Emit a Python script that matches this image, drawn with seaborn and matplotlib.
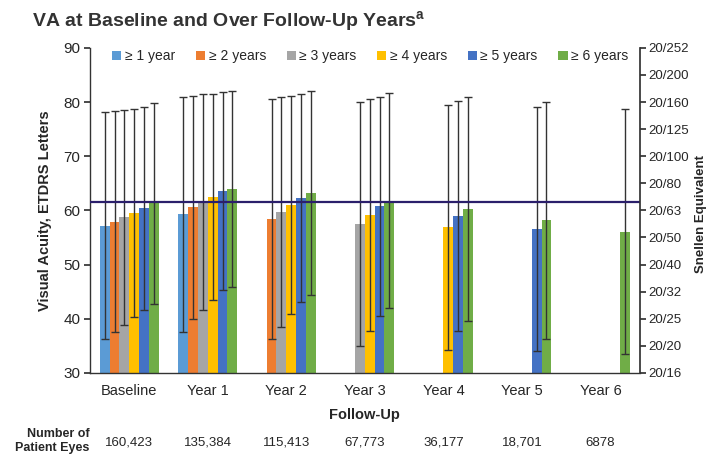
import numpy as np
import pandas as pd
import matplotlib
matplotlib.use("Agg")
import matplotlib.pyplot as plt
import seaborn as sns

categories = ["Baseline", "Year 1", "Year 2", "Year 3", "Year 4", "Year 5", "Year 6"]
groups = ["≥ 1 year", "≥ 2 years", "≥ 3 years", "≥ 4 years", "≥ 5 years", "≥ 6 years"]
colors = ["#5B9BD5", "#ED7D31", "#A5A5A5", "#FFC000", "#4472C4", "#70AD47"]

nan = np.nan
mean_1y = [57.2, 59.3, nan, nan, nan, nan, nan]
mean_2y = [57.9, 60.6, 58.4, nan, nan, nan, nan]
mean_3y = [58.7, 61.5, 59.7, 57.5, nan, nan, nan]
mean_4y = [59.5, 62.5, 61.0, 59.2, 56.9, nan, nan]
mean_5y = [60.4, 63.6, 62.3, 60.8, 59.0, 56.6, nan]
mean_6y = [61.3, 64.0, 63.2, 61.8, 60.2, 58.2, 56.1]

sd_1y = [20.9, 21.7, nan, nan, nan, nan, nan]
sd_2y = [20.4, 20.6, 22.2, nan, nan, nan, nan]
sd_3y = [19.8, 19.9, 21.2, 22.5, nan, nan, nan]
sd_4y = [19.2, 19.0, 20.2, 21.4, 22.6, nan, nan]
sd_5y = [18.7, 18.3, 19.2, 20.2, 21.2, 22.5, nan]
sd_6y = [18.6, 18.1, 18.8, 19.8, 20.7, 21.9, 22.6]

reference_line = 61.6
left_ticks = [30, 40, 50, 60, 70, 80, 90]
snellen_labels = ["20/16", "20/20", "20/25", "20/32", "20/40", "20/50", "20/63",
                  "20/80", "20/100", "20/125", "20/160", "20/200", "20/252"]
eye_counts = ["160,423", "135,384", "115,413", "67,773", "36,177", "18,701", "6878"]

means = [mean_1y, mean_2y, mean_3y, mean_4y, mean_5y, mean_6y]
sds = [sd_1y, sd_2y, sd_3y, sd_4y, sd_5y, sd_6y]

rows = []
for g, m, s in zip(groups, means, sds):
    for c, mv, sv in zip(categories, m, s):
        if not np.isnan(mv):
            rows.append({"cat": c, "grp": g, "mean": mv, "sd": sv})
df = pd.DataFrame(rows)

sns.set_theme(style="white")
plt.rcParams["font.family"] = ["Liberation Sans", "DejaVu Sans"]
plt.rcParams["mathtext.default"] = "regular"

fig = plt.figure(figsize=(7.14, 4.65), dpi=100)
ax = fig.add_axes([0.126, 0.198, 0.770, 0.699])

sns.barplot(data=df, x="cat", y="mean", hue="grp", order=categories,
            hue_order=groups, palette=colors, width=0.75, errorbar=None,
            saturation=1, linewidth=0, ax=ax, legend=True)

# error bars at bar centers
for g, container in zip(groups, ax.containers):
    sub = df[df["grp"] == g].set_index("cat").reindex(categories).dropna()
    for bar, (_, r) in zip(container, sub.iterrows()):
        xc = bar.get_x() + bar.get_width() / 2
        ax.errorbar(xc, r["mean"], yerr=r["sd"], fmt="none", ecolor="#333333",
                    elinewidth=1.0, capsize=3.2, capthick=1.0, zorder=5)

ax.axhline(reference_line, color="#2B1F6B", lw=1.6, zorder=6)

ax.set_xlim(-0.5, len(categories) - 0.5)
ax.set_ylim(30, 90)
ax.set_yticks(left_ticks)
ax.tick_params(axis="y", labelsize=11, length=4, color="#333333", left=True, pad=3)
ax.tick_params(axis="x", labelsize=10.5, length=0, pad=8)
ax.set_xlabel("Follow-Up", fontsize=10.5, fontweight="bold", labelpad=7)
ax.set_ylabel("Visual Acuity, ETDRS Letters", fontsize=10.5, fontweight="bold", labelpad=8)
for sp in ["top", "right"]:
    ax.spines[sp].set_visible(False)
for sp in ["left", "bottom"]:
    ax.spines[sp].set_color("#333333")
    ax.spines[sp].set_linewidth(1.0)

ax2 = ax.twinx()
ax2.set_ylim(30, 90)
ax2.set_yticks(np.arange(30, 91, 5))
ax2.set_yticklabels(snellen_labels)
ax2.tick_params(axis="y", labelsize=9.5, length=4, color="#333333", right=True, pad=2)
for sp in ["top", "left", "bottom"]:
    ax2.spines[sp].set_visible(False)
ax2.spines["right"].set_color("#333333")
ax2.grid(False)
ax.grid(False)
fig.text(0.973, 0.54, "Snellen Equivalent", rotation=90, fontsize=9.5,
         fontweight="bold", ha="left", va="center")

handles, labels = ax.get_legend_handles_labels()
ax.legend(handles, labels, loc="upper center", bbox_to_anchor=(0.51, 1.035), ncol=6,
          frameon=False, fontsize=10, handlelength=0.65, handleheight=0.65,
          handletextpad=0.25, columnspacing=1.5)

fig.text(0.045, 0.955, r"VA at Baseline and Over Follow-Up Years$^{a}$",
         fontsize=14, fontweight="bold", color="#333333", ha="left", va="center")

fig.text(0.125, 0.052, "Number of\nPatient Eyes", fontsize=9, fontweight="bold",
         ha="right", va="center", linespacing=1.2)
for i, n in enumerate(eye_counts):
    x_disp = ax.transData.transform((i, 0))[0]
    x_fig = fig.transFigure.inverted().transform((x_disp, 0))[0]
    fig.text(x_fig, 0.048, n, fontsize=9.5, ha="center", va="center")

fig.savefig("out.png", dpi=100)
